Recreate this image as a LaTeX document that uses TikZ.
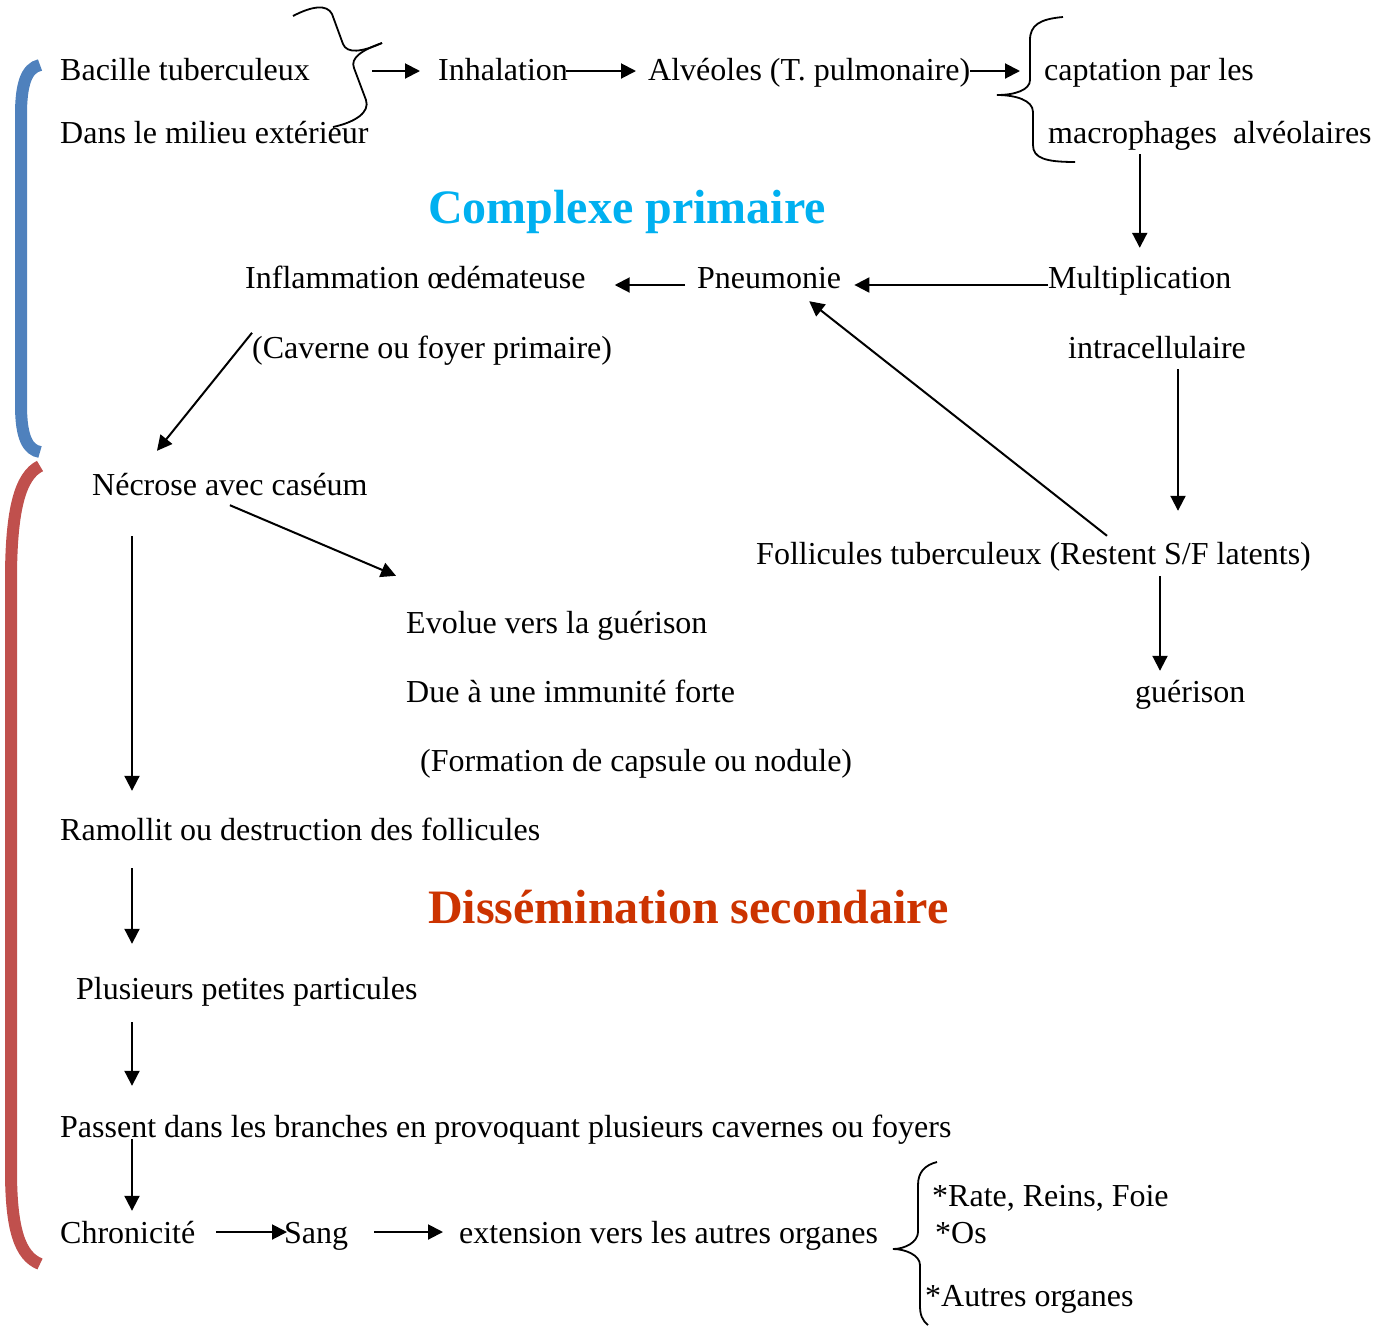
\documentclass[tikz,border=0pt]{standalone}
\usepackage{fontspec}
\setmainfont{Liberation Serif}
\usetikzlibrary{arrows.meta}
\definecolor{cpblue}{HTML}{00B0F0}
\definecolor{dsred}{HTML}{CC3300}
\definecolor{brblue}{HTML}{4F81BD}
\definecolor{brred}{HTML}{C0504D}
\tikzset{
  txt/.style={anchor=base west, inner sep=0pt, text height=22pt, text depth=7pt,
    font=\fontsize{32}{38}\selectfont},
  ttl/.style={anchor=base west, inner sep=0pt, font=\fontsize{48}{56}\selectfont\bfseries},
  arr/.style={line width=2pt, -{Triangle[length=15pt,width=15pt]}},
  brace/.style={line width=1.8pt},
  bracket/.style={line width=12pt}
}
\begin{document}
\begin{tikzpicture}[x=1pt,y=-1pt]
\useasboundingbox (0,0) rectangle (1390,1326);
% texts
\node[txt] (bac) at (60,80) {Bacille tuberculeux};
\node[txt] (dans) at (60,143) {Dans le milieu extérieur};
\node[txt] (inhal) at (438,80) {Inhalation};
\node[txt] (alv) at (648,80) {Alvéoles (T. pulmonaire)};
\node[txt] (capt) at (1044,80) {captation par les};
\node[txt] (macro) at (1048,143) {macrophages\ \ alvéolaires};
\node[ttl, text=cpblue] (cp) at (428,223) {Complexe primaire};
\node[txt] (infl) at (245,288) {Inflammation œdémateuse};
\node[txt] (pneu) at (697,288) {Pneumonie};
\node[txt] (mult) at (1048,288) {Multiplication};
\node[txt] (cav) at (252,358) {(Caverne ou foyer primaire)};
\node[txt] (intra) at (1068,358) {intracellulaire};
\node[txt] (nec) at (92,495) {Nécrose avec caséum};
\node[txt] (foll) at (756,564) {Follicules tuberculeux (Restent S/F latents)};
\node[txt] (evol) at (406,633) {Evolue vers la guérison};
\node[txt] (due) at (406,702) {Due à une immunité forte};
\node[txt] (guer) at (1135,702) {guérison};
\node[txt] (form) at (420,771) {(Formation de capsule ou nodule)};
\node[txt] (ram) at (60,840) {Ramollit ou destruction des follicules};
\node[ttl, text=dsred] (ds) at (428,923) {Dissémination secondaire};
\node[txt] (plus) at (76,999) {Plusieurs petites particules};
\node[txt] (pass) at (60,1137) {Passent dans les branches en provoquant plusieurs cavernes ou foyers};
\node[txt] (chron) at (60,1243) {Chronicité};
\node[txt] (sang) at (284,1243) {Sang};
\node[txt] (ext) at (459,1243) {extension vers les autres organes};
\node[txt] (rate) at (932,1206) {*Rate, Reins, Foie};
\node[txt] (os) at (935,1243) {*Os};
\node[txt] (autres) at (925,1306) {*Autres organes};

% braces
\draw[brace] (293,16) .. controls (312,6) and (327,4) .. (332,14) -- (343,44)
  .. controls (347,54) and (362,52) .. (382,43);
\draw[brace] (382,43) .. controls (362,50) and (350,58) .. (354,68) -- (366,100)
  .. controls (370,112) and (356,122) .. (333,127);
\draw[brace] (1063,17) .. controls (1040,19) and (1030,25) .. (1030,40) -- (1030,80)
  .. controls (1030,90) and (1015,95) .. (997,95)
  .. controls (1015,95) and (1033,100) .. (1033,112) -- (1033,145)
  .. controls (1033,158) and (1045,162) .. (1075,162);
\draw[brace] (937,1162) .. controls (925,1165) and (918,1172) .. (918,1185) -- (918,1232)
  .. controls (918,1242) and (905,1249) .. (893,1249)
  .. controls (905,1249) and (920,1255) .. (920,1265) -- (920,1305)
  .. controls (920,1315) and (922,1320) .. (928,1325);
\coordinate (bA) at (372,71);

% coloured brackets
\draw[bracket, brblue] (40,65) .. controls (26,68) and (21,85) .. (21,115) -- (21,405)
  .. controls (21,438) and (28,450) .. (40,452);
\draw[bracket, brred] (40,466) .. controls (20,476) and (11,510) .. (11,580) -- (11,1170)
  .. controls (11,1230) and (20,1256) .. (40,1264);

% arrows
\draw[arr] (bA) -- ([xshift=-18pt,yshift=9pt]inhal.base west);
\draw[arr] ([xshift=-2pt,yshift=9pt]inhal.base east) -- ([xshift=-12pt,yshift=9pt]alv.base west);
\draw[arr] ([yshift=9pt]alv.base east) -- ([xshift=-24pt,yshift=9pt]capt.base west);
\draw[arr] ([yshift=-4pt]macro.south -| mult.north) -- ([yshift=18pt]mult.north);
\draw[arr] ([yshift=3pt]mult.base west) -- ([xshift=13pt,yshift=3pt]pneu.base east);
\draw[arr] ([xshift=-12pt,yshift=3pt]pneu.base west) -- ([xshift=29pt,yshift=3pt]infl.base east);
\draw[arr] ([yshift=3pt]cav.north west) -- ([xshift=65pt,yshift=22pt]nec.north west);
\draw[arr] ([yshift=-3pt]nec.south) -- ([xshift=-10pt,yshift=35pt]evol.north west);
\draw[arr] ([xshift=40pt,yshift=-34pt]nec.south west) -- ([xshift=72pt,yshift=27pt]ram.north west);
\draw[arr] ([xshift=351pt,yshift=6pt]foll.north west) -- ([xshift=40pt,yshift=-6pt]pneu.south);
\draw[arr] ([xshift=110pt,yshift=-4pt]intra.south west) -- ([xshift=422pt,yshift=31pt]foll.north west);
\draw[arr] ([xshift=404pt,yshift=-5pt]foll.south west) -- ([xshift=25pt,yshift=9pt]guer.north west);
\draw[arr] ([xshift=72pt,yshift=-21pt]ram.south west) -- ([xshift=56pt,yshift=33pt]plus.north west);
\draw[arr] ([xshift=56pt,yshift=-16pt]plus.south west) -- ([xshift=72pt,yshift=29pt]pass.north west);
\draw[arr] ([xshift=72pt,yshift=5pt]pass.south west) -- ([xshift=72pt,yshift=10pt]chron.north west);
\draw[arr] ([xshift=21pt,yshift=11pt]chron.base east) -- ([xshift=3pt,yshift=11pt]sang.base west);
\draw[arr] ([xshift=26pt,yshift=11pt]sang.base east) -- ([xshift=-16pt,yshift=11pt]ext.base west);
\end{tikzpicture}
\end{document}
